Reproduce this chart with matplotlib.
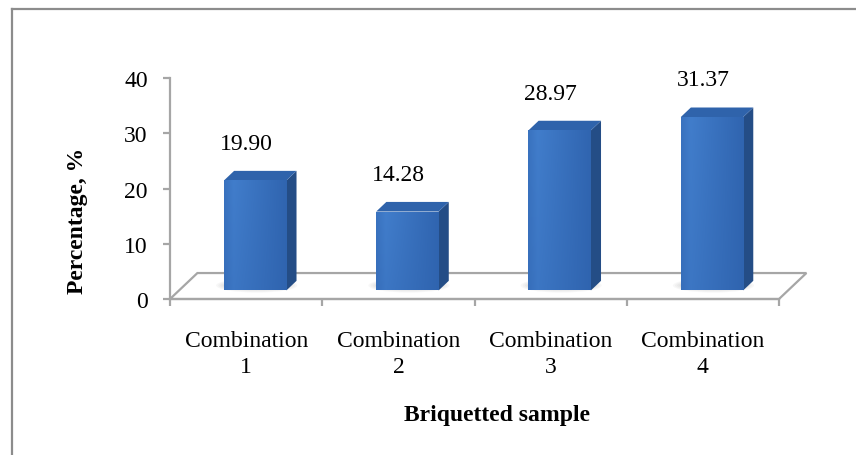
import matplotlib
matplotlib.use("Agg")
import matplotlib.pyplot as plt
from matplotlib.patches import Polygon, Rectangle, Ellipse
from matplotlib.lines import Line2D
import numpy as np

# chart data
categories = ["Combination\n1", "Combination\n2", "Combination\n3", "Combination\n4"]
values = [19.90, 14.28, 28.97, 31.37]
value_labels = ["19.90", "14.28", "28.97", "31.37"]
y_ticks = [0, 10, 20, 30, 40]

# oblique "3d" look: depth of the floor in data units
DEPTH_X = 0.18
DEPTH_Y = 4.7
BAR_W = 0.41
F_FRONT = 0.33   # bar front face at this depth fraction
F_BACK = 0.70

GRAY = "#a6a6a6"
FRONT_L = np.array([0x41, 0x7d, 0xcb]) / 255
FRONT_D = np.array([0x2e, 0x62, 0xad]) / 255
SIDE = "#244d86"
TOP = "#2f63ab"
FS = 17

plt.rcParams["font.family"] = ["Liberation Serif", "DejaVu Serif"]

fig = plt.figure(figsize=(8.56, 4.56), dpi=100)
ax = fig.add_axes([170 / 856, 156 / 456, 609 / 856, 221 / 456])
ax.set_xlim(-0.5, 3.5)
ax.set_ylim(0, 40)

# outer border of the chart area
fig.add_artist(Line2D([12 / 856, 12 / 856], [0, 1 - 10 / 456], transform=fig.transFigure,
                      color="#8c8c8c", lw=1.6))
fig.add_artist(Line2D([12 / 856, 1], [1 - 10 / 456, 1 - 10 / 456], transform=fig.transFigure,
                      color="#8c8c8c", lw=1.6))

# floor
n = len(categories)
floor = Polygon([(-0.5, 0), (n - 0.5, 0), (n - 0.5 + DEPTH_X, DEPTH_Y), (-0.5 + DEPTH_X, DEPTH_Y)],
                closed=True, facecolor="white", edgecolor=GRAY, lw=1.6, clip_on=False, zorder=1)
ax.add_patch(floor)

# gradient image for the bar front faces (lighter left-centre, darker right)
gx = np.linspace(0, 1, 64)
shape = np.where(gx < 0.15, 0.6 + gx / 0.15 * 0.4, 1 - (gx - 0.15) / 0.85 * 0.9)
gy = np.linspace(0, 1, 32)[:, None]
shade = shape[None, :] * (0.75 + 0.25 * gy)
img = FRONT_D + (FRONT_L - FRONT_D) * shade[..., None]

x = np.arange(n)
for i, v in enumerate(values):
    x0 = x[i] - BAR_W / 2 + F_FRONT * DEPTH_X
    x1 = x0 + BAR_W
    y0 = F_FRONT * DEPTH_Y
    ddx = (F_BACK - F_FRONT) * DEPTH_X
    ddy = (F_BACK - F_FRONT) * DEPTH_Y

    # soft shadow on the floor
    for k in range(5):
        sh = Ellipse((x[i] + F_FRONT * DEPTH_X + 0.01, y0 + 0.9), BAR_W * (1.02 + 0.07 * k), 1.2 + 0.35 * k,
                     facecolor="#808080", edgecolor="none", alpha=0.06, zorder=2, clip_on=False)
        ax.add_patch(sh)

    side = Polygon([(x1, y0), (x1 + ddx, y0 + ddy), (x1 + ddx, y0 + ddy + v), (x1, y0 + v)],
                   closed=True, facecolor=SIDE, edgecolor="none", zorder=3, clip_on=False)
    top = Polygon([(x0, y0 + v), (x1, y0 + v), (x1 + ddx, y0 + ddy + v), (x0 + ddx, y0 + ddy + v)],
                  closed=True, facecolor=TOP, edgecolor="none", zorder=3, clip_on=False)
    front = Rectangle((x0, y0), BAR_W, v, facecolor="none", edgecolor="none", zorder=4, clip_on=False)
    ax.add_patch(side)
    ax.add_patch(top)
    ax.add_patch(front)
    im = ax.imshow(img, extent=(x0, x1, y0, y0 + v), aspect="auto", zorder=4,
                   interpolation="bilinear", origin="lower")
    im.set_clip_path(front)

    ax.annotate(value_labels[i], (x[i], v), xytext=(0, 33), textcoords="offset points",
                ha="center", va="center", fontsize=FS, annotation_clip=False)

# restore limits after imshow
ax.set_xlim(-0.5, 3.5)
ax.set_ylim(0, 40)

for s in ["top", "right"]:
    ax.spines[s].set_visible(False)
for s in ["left", "bottom"]:
    ax.spines[s].set_color(GRAY)
    ax.spines[s].set_linewidth(1.6)

ax.set_yticks(y_ticks)
ax.tick_params(axis="y", length=5, width=1.6, color=GRAY, pad=11, labelsize=FS)
ax.set_xticks(x)
ax.set_xticklabels(categories, fontsize=FS, linespacing=1.35)
ax.set_xticks(np.arange(n + 1) - 0.5, minor=True)
ax.tick_params(axis="x", which="major", length=0, pad=22)
ax.tick_params(axis="x", which="minor", length=5, width=1.6, color=GRAY)

fig.text(78 / 856, 1 - 221 / 456, "Percentage, %", rotation=90, ha="center", va="center",
         fontsize=FS, fontweight="bold")
fig.text(497 / 856, 1 - 416 / 456, "Briquetted sample", ha="center", va="center",
         fontsize=FS, fontweight="bold")

fig.savefig("out.png", dpi=100)
